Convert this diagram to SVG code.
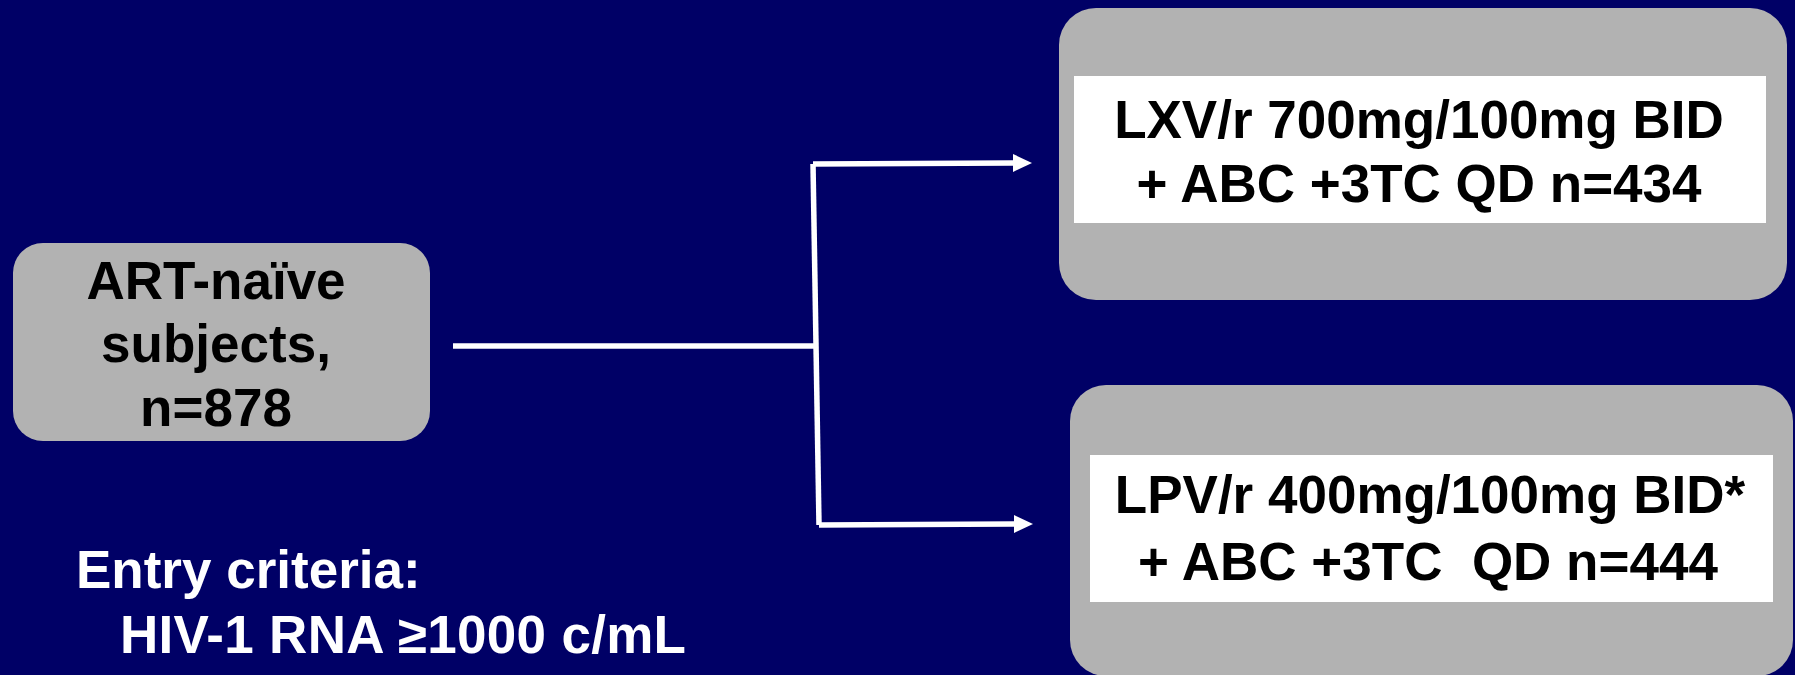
<svg xmlns="http://www.w3.org/2000/svg" width="1795" height="675" viewBox="0 0 1795 675">
  <style>
    .box { fill: #b2b2b2; }
    .panel { fill: #ffffff; }
    .lbl { font-family: "Liberation Sans", Arial, sans-serif; font-weight: bold; font-size: 53px; fill: #000000; text-anchor: middle; }
    .note { font-family: "Liberation Sans", Arial, sans-serif; font-weight: bold; font-size: 53px; fill: #ffffff; }
    .wire { fill: none; stroke: #ffffff; stroke-width: 5.5; stroke-linejoin: miter; stroke-linecap: butt; }
  </style>
  <defs>
    <marker id="head" markerUnits="userSpaceOnUse" markerWidth="20" markerHeight="18" viewBox="0 0 20 18" refX="0" refY="9" orient="auto">
      <path d="M0,0 L19,9 L0,18 Z" fill="#ffffff"/>
    </marker>
  </defs>

  <!-- backdrop -->
  <rect x="0" y="0" width="1795" height="675" fill="#000066"/>

  <!-- connectors: trunk, split and two branches -->
  <g id="connectors">
    <path class="wire" d="M453,346 L815,346"/>
    <path class="wire" d="M813,164 L819,525"/>
    <path class="wire" d="M813,164 L1013,163" marker-end="url(#head)"/>
    <path class="wire" d="M819,525 L1014,524" marker-end="url(#head)"/>
  </g>

  <!-- source population -->
  <g id="subjects">
    <rect class="box" x="13" y="243" width="417" height="198" rx="30" ry="30"/>
    <text class="lbl" x="216" y="299">ART-naïve</text>
    <text class="lbl" x="216" y="362">subjects,</text>
    <text class="lbl" x="216" y="426">n=878</text>
  </g>

  <!-- arm 1 -->
  <g id="arm-lxv">
    <rect class="box" x="1059" y="8" width="728" height="292" rx="37" ry="37"/>
    <rect class="panel" x="1074" y="76" width="692" height="147"/>
    <text class="lbl" x="1419" y="138">LXV/r 700mg/100mg BID</text>
    <text class="lbl" x="1419" y="202">+ ABC +3TC QD n=434</text>
  </g>

  <!-- arm 2 -->
  <g id="arm-lpv">
    <rect class="box" x="1070" y="385" width="723" height="291" rx="36" ry="36"/>
    <rect class="panel" x="1090" y="455" width="683" height="147"/>
    <text class="lbl" x="1430" y="513">LPV/r 400mg/100mg BID*</text>
    <text class="lbl" x="1428" y="580" xml:space="preserve">+ ABC +3TC  QD n=444</text>
  </g>

  <!-- entry criteria note -->
  <g id="criteria">
    <text class="note" x="76" y="588">Entry criteria:</text>
    <text class="note" x="120" y="653" letter-spacing="0.3">HIV-1 RNA ≥1000 c/mL</text>
  </g>
</svg>
